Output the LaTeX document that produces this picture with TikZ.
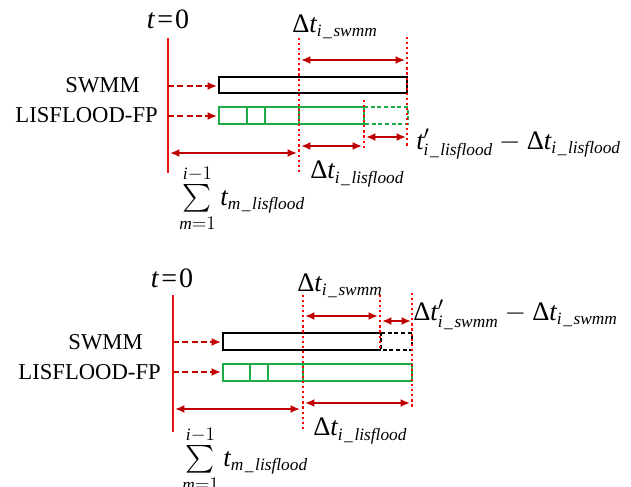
\documentclass[tikz,border=0pt]{standalone}
\usepackage{amsmath}
\usepackage{fontspec}
\setmainfont{Liberation Serif}
\usetikzlibrary{arrows.meta}
\definecolor{lred}{RGB}{235,20,20}
\definecolor{dred}{RGB}{192,0,0}
\definecolor{lgreen}{RGB}{30,170,70}
\newcommand{\ti}{\textit{t}}
\newcommand{\sbs}[1]{\text{\fontsize{13}{15}\selectfont\itshape #1}}
\newcommand{\usc}{\kern1.2pt\_\kern1.2pt}
\begin{document}
\begin{tikzpicture}[x=0.75pt,y=-0.75pt,
  every node/.style={font=\fontsize{17}{20}\selectfont, inner sep=0pt},
  mathlbl/.style={anchor=west, font=\fontsize{20}{24}\selectfont},
  zeroline/.style={lred, line width=1.7pt},
  feed/.style={dred, line width=1.6pt, dash pattern=on 4.5pt off 2.5pt, -{Latex[length=7pt,width=6pt]}},
  span/.style={dred, line width=1.5pt, {Latex[length=7pt,width=6pt]}-{Latex[length=7pt,width=6pt]}},
  marker/.style={red, line width=1.9pt, dash pattern=on 1.6pt off 2.2pt},
  sbox/.style={black, line width=1.1pt},
  lbox/.style={lgreen, line width=1.1pt},
  dbox/.style={dash pattern=on 3pt off 2pt, line width=1.1pt},
]
\useasboundingbox (0,0) rectangle (631,486);

% ================= top panel =================
\node[font=\fontsize{21}{25}\selectfont] (t0a) at (168,19) {\ti\kern1.5pt=\kern1.5pt0};
\node[anchor=east] (swa) at (140,85) {SWMM};
\node[anchor=east] (lfa) at (158,115) {LISFLOOD-FP};
\coordinate (za1) at (168,38);
\coordinate (za2) at (168,173);
\draw[zeroline] (za1) -- (za2);
\coordinate (fa1) at (168,86);  \coordinate (fa2) at (217,86);
\coordinate (fa3) at (168,116); \coordinate (fa4) at (217,116);
\draw[feed] (fa1) -- (fa2);
\draw[feed] (fa3) -- (fa4);
% boxes
\draw[sbox] (219,77) rectangle (407,93);
\draw[lbox] (364,107) -- (219,107) -- (219,124) -- (364,124) -- cycle;
\draw[lbox] (247,107) -- (247,124) (265,107) -- (265,124) (299,107) -- (299,124);
\draw[lbox,dbox] (364,107) -- (408,107) -- (408,124) -- (364,124);
% markers
\draw[marker] (299,38) -- (299,173);
\draw[marker] (407,37) -- (407,148);
\draw[marker] (364,100) -- (364,148);
% spans
\coordinate (sa1) at (301,60);  \coordinate (sa2) at (405,60);
\coordinate (sa3) at (366,137); \coordinate (sa4) at (406,137);
\coordinate (sa5) at (301,146); \coordinate (sa6) at (362,146);
\coordinate (sa7) at (170,153); \coordinate (sa8) at (297,153);
\draw[span] (sa1) -- (sa2);
\draw[span] (sa3) -- (sa4);
\draw[span] (sa5) -- (sa6);
\draw[span] (sa7) -- (sa8);
% labels
\node[mathlbl] (la1) at (292,27) {$\text{Δ}\ti_{\sbs{i\usc swmm}}$};
\node[mathlbl] (la2) at (416,144) {$\ti'_{\sbs{i\usc lisflood}}-\text{Δ}\ti_{\sbs{i\usc lisflood}}$};
\node[mathlbl] (la3) at (310,174) {$\text{Δ}\ti_{\sbs{i\usc lisflood}}$};
\node[mathlbl] (la4) at (179,198) {$\sum\limits_{\sbs{m}=1}^{\sbs{i}-1}\ti_{\sbs{m\usc lisflood}}$};

% ================= bottom panel =================
\node[font=\fontsize{21}{25}\selectfont] (t0b) at (172,278) {\ti\kern1.5pt=\kern1.5pt0};
\node[anchor=east] (swb) at (143,342) {SWMM};
\node[anchor=east] (lfb) at (161,372) {LISFLOOD-FP};
\coordinate (zb1) at (173,295);
\coordinate (zb2) at (173,432);
\draw[zeroline] (zb1) -- (zb2);
\coordinate (fb1) at (173,342); \coordinate (fb2) at (221,342);
\coordinate (fb3) at (173,372); \coordinate (fb4) at (221,372);
\draw[feed] (fb1) -- (fb2);
\draw[feed] (fb3) -- (fb4);
% boxes
\draw[sbox] (381,333) -- (223,333) -- (223,350) -- (381,350);
\draw[sbox,dbox] (381,333) -- (412,333) -- (412,350) -- (381,350) -- cycle;
\draw[lbox] (223,364) rectangle (412,381);
\draw[lbox] (250,364) -- (250,381) (268,364) -- (268,381) (303,364) -- (303,381);
% markers
\draw[marker] (303,295) -- (303,430);
\draw[marker] (380,295) -- (380,350);
\draw[marker] (412,293) -- (412,407);
% spans
\coordinate (sb1) at (305,316); \coordinate (sb2) at (378,316);
\coordinate (sb3) at (382,321); \coordinate (sb4) at (411,321);
\coordinate (sb5) at (305,403); \coordinate (sb6) at (410,403);
\coordinate (sb7) at (175,409); \coordinate (sb8) at (300,409);
\draw[span] (sb1) -- (sb2);
\draw[span] (sb3) -- (sb4);
\draw[span] (sb5) -- (sb6);
\draw[span] (sb7) -- (sb8);
% labels
\node[mathlbl] (lb1) at (297,286) {$\text{Δ}\ti_{\sbs{i\usc swmm}}$};
\node[mathlbl] (lb2) at (413,315) {$\text{Δ}\ti'_{\sbs{i\usc swmm}}-\text{Δ}\ti_{\sbs{i\usc swmm}}$};
\node[mathlbl] (lb3) at (313,431) {$\text{Δ}\ti_{\sbs{i\usc lisflood}}$};
\node[mathlbl] (lb4) at (182,459) {$\sum\limits_{\sbs{m}=1}^{\sbs{i}-1}\ti_{\sbs{m\usc lisflood}}$};
\end{tikzpicture}
\end{document}
